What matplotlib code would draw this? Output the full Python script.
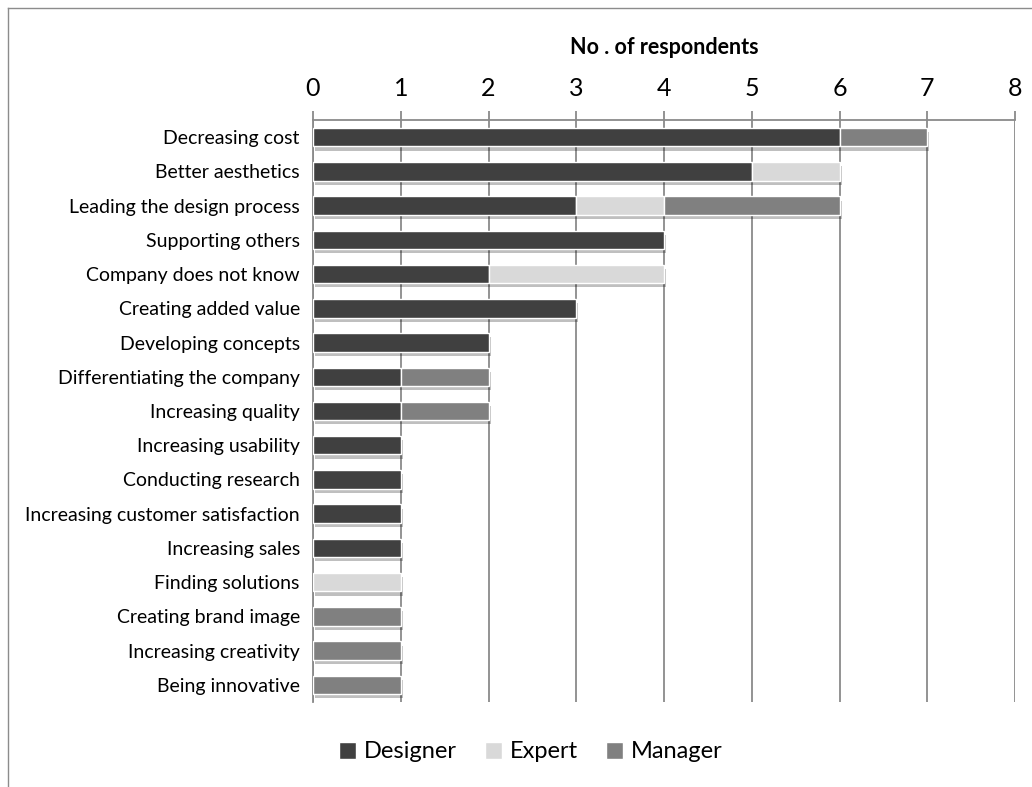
import matplotlib
matplotlib.use("Agg")
import matplotlib.pyplot as plt
from matplotlib.patches import Patch
from matplotlib.lines import Line2D
from matplotlib import patheffects
import numpy as np

plt.rcParams['font.family'] = ['Lato', 'DejaVu Sans']

categories = [
    "Decreasing cost",
    "Better aesthetics",
    "Leading the design process",
    "Supporting others",
    "Company does not know",
    "Creating added value",
    "Developing concepts",
    "Differentiating the company",
    "Increasing quality",
    "Increasing usability",
    "Conducting research",
    "Increasing customer satisfaction",
    "Increasing sales",
    "Finding solutions",
    "Creating brand image",
    "Increasing creativity",
    "Being innovative",
]
designer = [6, 5, 3, 4, 2, 3, 2, 1, 1, 1, 1, 1, 1, 0, 0, 0, 0]
expert   = [0, 1, 1, 0, 2, 0, 0, 0, 0, 0, 0, 0, 0, 1, 0, 0, 0]
manager  = [1, 0, 2, 0, 0, 0, 0, 1, 1, 0, 0, 0, 0, 0, 1, 1, 1]
series_names = ["Designer", "Expert", "Manager"]
series_colors = ["#404040", "#d9d9d9", "#808080"]
x_ticks = [0, 1, 2, 3, 4, 5, 6, 7, 8]
x_title = "No . of respondents"

W, H = 1032, 787
fig = plt.figure(figsize=(W / 100, H / 100), dpi=100)
ax = fig.add_axes([313 / W, 1 - 702 / H, (1015 - 313) / W, (702 - 120) / H])

grid_col = "#8a8a8a"
y = np.arange(len(categories))
shadow = [patheffects.SimplePatchShadow(offset=(1.5, -3), shadow_rgbFace="#000000", alpha=0.25),
          patheffects.Normal()]

left = np.zeros(len(categories))
for vals, name, col in zip([designer, expert, manager], series_names, series_colors):
    vals = np.array(vals, dtype=float)
    bars = ax.barh(y, vals, left=left, height=0.54, color=col, edgecolor="white",
                   linewidth=1.0, label=name, zorder=3)
    for b, v in zip(bars, vals):
        if v > 0:
            b.set_path_effects(shadow)
        else:
            b.set_visible(False)
    left += vals

ax.set_xlim(0, 8)
ax.set_ylim(len(categories) - 0.5, -0.5)
ax.set_xticks(x_ticks)
ax.set_yticks(y)
ax.set_yticklabels(categories, fontsize=14)
ax.xaxis.tick_top()
ax.tick_params(axis="x", direction="out", length=6.5, width=1.3, color=grid_col,
               labelsize=18, pad=8)
ax.tick_params(axis="y", length=0, pad=9.5)

ax.grid(axis="x", color=grid_col, linewidth=1.3, zorder=0)
ax.set_axisbelow(True)
for side in ["right", "bottom"]:
    ax.spines[side].set_visible(False)
for side in ["top", "left"]:
    ax.spines[side].set_color(grid_col)
    ax.spines[side].set_linewidth(1.3)

fig.text((313 + 1015) / 2 / W, 1 - 48 / H, x_title, ha="center", va="center",
         fontsize=15.5, fontweight="bold")

handles = [Patch(facecolor=c, edgecolor="white", label=n) for n, c in zip(series_names, series_colors)]
fig.legend(handles=handles, loc="center", bbox_to_anchor=(531 / W, 1 - 752 / H), ncol=3,
           frameon=False, fontsize=17, handlelength=0.7, handleheight=0.7,
           handletextpad=0.35, columnspacing=1.2)

# outer frame
frame_col = "#8c8c8c"
fig.add_artist(Line2D([8 / W, 8 / W], [0, 1 - 8 / H], color=frame_col, linewidth=1.0,
                      transform=fig.transFigure))
fig.add_artist(Line2D([8 / W, 1], [1 - 8 / H, 1 - 8 / H], color=frame_col, linewidth=1.0,
                      transform=fig.transFigure))

fig.savefig("out.png", dpi=100)
